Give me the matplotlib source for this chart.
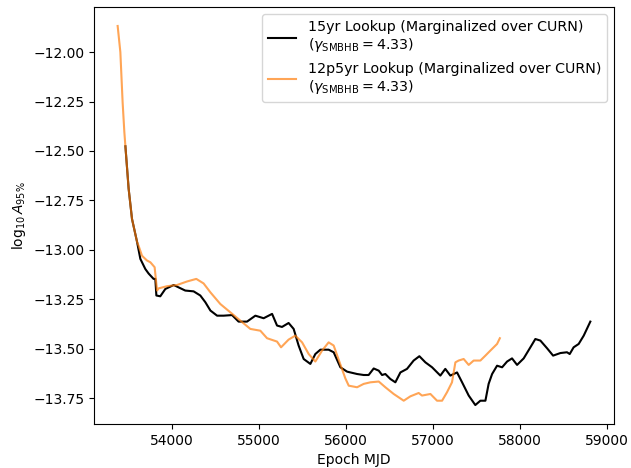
import matplotlib
matplotlib.use('Agg')
import matplotlib.pyplot as plt
import numpy as np

# 15yr lookup curve (epoch MJD, log10 A95%)
mjd_15yr = [53464, 53501, 53540, 53598, 53636, 53693, 53731, 53788, 53808, 53820,
            53865, 53923, 54019, 54076, 54152, 54248, 54325, 54383, 54441, 54518,
            54593, 54690, 54765, 54862, 54958, 55053, 55150, 55207, 55264, 55340,
            55398, 55455, 55513, 55590, 55647, 55705, 55800, 55858, 55935, 56012,
            56127, 56203, 56260, 56318, 56376, 56414, 56452, 56509, 56567, 56625,
            56701, 56777, 56843, 56912, 56989, 57084, 57141, 57199, 57276, 57334,
            57410, 57486, 57544, 57602, 57639, 57679, 57736, 57794, 57851, 57908,
            57966, 58042, 58119, 58176, 58234, 58311, 58380, 58464, 58540, 58571,
            58616, 58674, 58732, 58808]
amp_15yr = [-12.476, -12.69, -12.844, -12.96, -13.046, -13.097, -13.12, -13.147, -13.147, -13.231,
            -13.235, -13.198, -13.178, -13.19, -13.206, -13.21, -13.231, -13.265, -13.307, -13.333,
            -13.333, -13.33, -13.363, -13.363, -13.333, -13.346, -13.324, -13.383, -13.39, -13.37,
            -13.4, -13.484, -13.552, -13.577, -13.527, -13.505, -13.505, -13.518, -13.594, -13.616,
            -13.628, -13.633, -13.633, -13.6, -13.611, -13.633, -13.628, -13.653, -13.67, -13.62,
            -13.602, -13.56, -13.538, -13.569, -13.594, -13.636, -13.602, -13.636, -13.62, -13.67,
            -13.737, -13.785, -13.763, -13.763, -13.678, -13.628, -13.586, -13.594, -13.565, -13.549,
            -13.582, -13.549, -13.493, -13.451, -13.459, -13.498, -13.535, -13.522, -13.518, -13.527,
            -13.493, -13.476, -13.434, -13.363]

# 12.5yr lookup curve
mjd_12p5yr = [53375, 53406, 53432, 53452, 53464, 53501, 53540, 53598, 53616, 53655,
              53712, 53751, 53800, 53828, 53846, 53942, 54057, 54173, 54279, 54363,
              54441, 54555, 54670, 54785, 54900, 55015, 55092, 55207, 55253, 55340,
              55417, 55495, 55571, 55647, 55724, 55800, 55858, 55935, 55992, 56031,
              56127, 56203, 56280, 56376, 56452, 56548, 56663, 56739, 56835, 56873,
              56970, 57046, 57104, 57161, 57218, 57257, 57294, 57352, 57410, 57467,
              57544, 57602, 57658, 57736, 57768]
amp_12p5yr = [-11.868, -12.0, -12.253, -12.405, -12.476, -12.69, -12.844, -12.96, -12.98, -13.03,
              -13.054, -13.063, -13.088, -13.206, -13.195, -13.184, -13.178, -13.16, -13.147, -13.17,
              -13.215, -13.274, -13.316, -13.358, -13.4, -13.409, -13.447, -13.464, -13.493, -13.454,
              -13.434, -13.468, -13.527, -13.565, -13.51, -13.468, -13.484, -13.58, -13.65, -13.687,
              -13.695, -13.678, -13.67, -13.666, -13.695, -13.729, -13.763, -13.741, -13.724, -13.737,
              -13.729, -13.763, -13.763, -13.72, -13.67, -13.569, -13.56, -13.552, -13.582, -13.56,
              -13.56, -13.535, -13.51, -13.476, -13.447]

label_15 = '15yr Lookup (Marginalized over CURN)\n' + r'($\gamma_{\rm SMBHB} = 4.33$)'
label_12p5 = '12p5yr Lookup (Marginalized over CURN)\n' + r'($\gamma_{\rm SMBHB} = 4.33$)'

fig, ax = plt.subplots(figsize=(6.31, 4.68), dpi=100)
fig.subplots_adjust(left=0.149, right=0.973, top=0.985, bottom=0.094)
ax.plot(mjd_15yr, amp_15yr, color='black', label=label_15)
ax.plot(mjd_12p5yr, amp_12p5yr, color='C1', alpha=0.7, label=label_12p5)
ax.set_xlabel('Epoch MJD')
ax.set_ylabel(r'$\log_{10}A_{95\%}$')
ax.legend(loc='upper right', fontsize=10.3)
fig.savefig('out.png', dpi=100)
